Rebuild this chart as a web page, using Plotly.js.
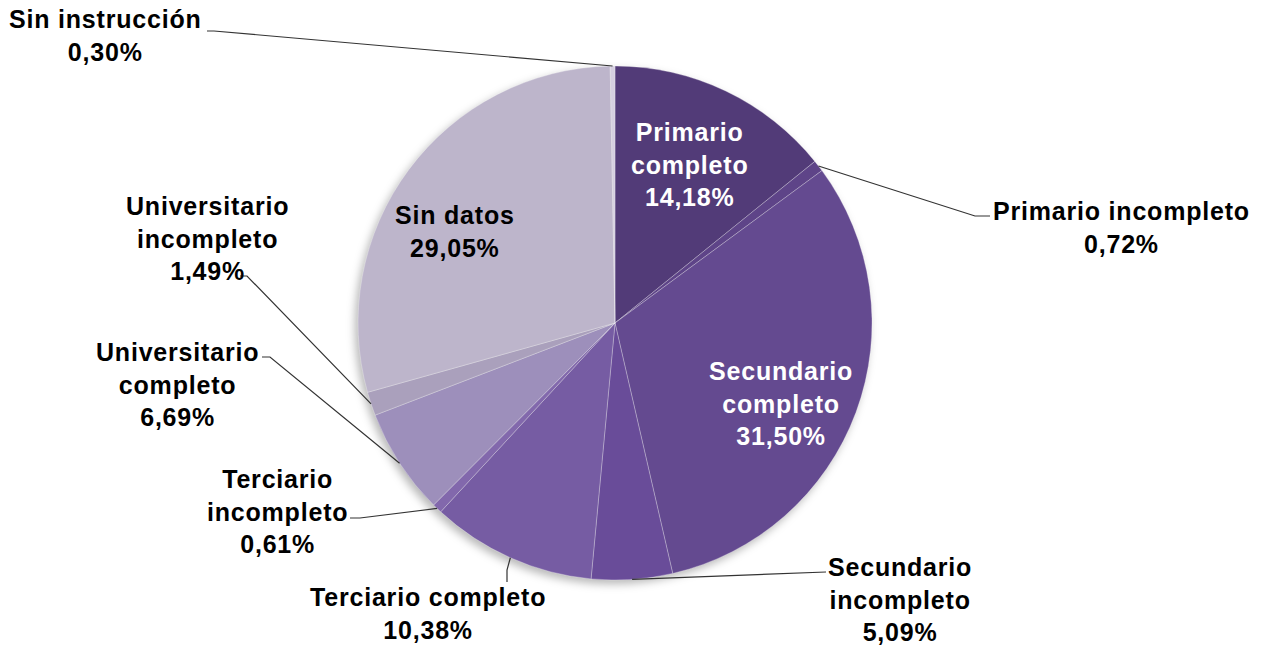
<!DOCTYPE html>
<html>
<head>
<meta charset="utf-8">
<script src="https://cdn.plot.ly/plotly-3.0.1.min.js"></script>
<style>
  html, body { margin: 0; padding: 0; background: #ffffff; }
  #chart { width: 1268px; height: 646px; }
  .pielayer { filter: drop-shadow(-3px 4px 4px rgba(0,0,0,0.28)); }
  .annotation-text { letter-spacing: 0.8px; }
</style>
</head>
<body>
<div id="chart"></div>
<script>
// ---- data ----
const categories = [
  "Primario completo",
  "Primario incompleto",
  "Secundario completo",
  "Secundario incompleto",
  "Terciario completo",
  "Terciario incompleto",
  "Universitario completo",
  "Universitario incompleto",
  "Sin datos",
  "Sin instrucción"
];
const percentages = [14.18, 0.72, 31.50, 5.09, 10.38, 0.61, 6.69, 1.49, 29.05, 0.30];

// ---- styles ----
const sliceColors = [
  "#523b78", "#5e4488", "#644a90", "#694c99", "#765ca3",
  "#8268ac", "#9d8fbb", "#aaa0bc", "#bdb5cb", "#d5cfe0"
];

const W = 1268, H = 646;
// pie placement (pixels)
const pieBox = { left: 358, right: 872, top: 66, bottom: 580 };

// label layout (pixel positions of label centres, wrap flag, colour, leader path points)
const labelLayout = [
  { x: 690,  y: 164, wrap: true,  color: "#ffffff", leader: null },
  { x: 1121, y: 227, wrap: false, color: "#000000", leader: [[990, 216], [975, 216]] },
  { x: 781,  y: 403, wrap: true,  color: "#ffffff", leader: null },
  { x: 900,  y: 599, wrap: true,  color: "#000000", leader: [[826, 572]] },
  { x: 428,  y: 613, wrap: false, color: "#000000", leader: [[507, 582], [507, 570]] },
  { x: 277,  y: 511, wrap: true,  color: "#000000", leader: [[350, 518], [360, 518]] },
  { x: 178,  y: 384, wrap: true,  color: "#000000", leader: [[262, 357], [270, 357]] },
  { x: 207,  y: 238, wrap: true,  color: "#000000", leader: [[240, 276], [247, 276]] },
  { x: 455,  y: 232, wrap: false, color: "#000000", leader: null },
  { x: 105,  y: 36,  wrap: false, color: "#000000", leader: [[207, 31], [214, 31]] }
];

function fmt(v) { return v.toFixed(2).replace(".", ",") + "%"; }

const domain = {
  x: [pieBox.left / W, pieBox.right / W],
  y: [1 - pieBox.bottom / H, 1 - pieBox.top / H]
};
const cx = (pieBox.left + pieBox.right) / 2;
const cy = (pieBox.top + pieBox.bottom) / 2;
const R = Math.min(pieBox.right - pieBox.left, pieBox.bottom - pieBox.top) / 2;

const total = percentages.reduce((a, b) => a + b, 0);
let cum = 0;
const midAngles = percentages.map(v => {
  const a = (cum + v / 2) / total * 2 * Math.PI;
  cum += v;
  return a;
});

const annotations = [];
const shapes = [];
const px2x = p => p / W;
const px2y = p => 1 - p / H;

categories.forEach((name, i) => {
  const L = labelLayout[i];
  const nameText = L.wrap ? name.replace(" ", "<br>") : name;
  annotations.push({
    xref: "paper", yref: "paper",
    x: px2x(L.x), y: px2y(L.y),
    xanchor: "center", yanchor: "middle",
    text: nameText + "<br>" + fmt(percentages[i]),
    showarrow: false,
    align: "center",
    font: { family: "Liberation Sans, Arial, sans-serif", size: 25, weight: "bold", color: L.color }
  });
  if (L.leader) {
    const ex = cx + R * Math.sin(midAngles[i]);
    const ey = cy - R * Math.cos(midAngles[i]);
    const pts = L.leader.concat([[ex, ey]]);
    const path = pts.map((p, k) => (k === 0 ? "M" : "L") + px2x(p[0]).toFixed(5) + "," + px2y(p[1]).toFixed(5)).join(" ");
    shapes.push({
      type: "path", xref: "paper", yref: "paper", path: path,
      line: { color: "#333333", width: 1.2 }
    });
  }
});

const trace = {
  type: "pie",
  labels: categories,
  values: percentages,
  sort: false,
  direction: "clockwise",
  rotation: 0,
  textinfo: "none",
  hoverinfo: "label+percent",
  domain: domain,
  marker: {
    colors: sliceColors,
    line: { color: "rgba(255,255,255,0.35)", width: 0.8 }
  },
  showlegend: false
};

const layout = {
  width: W, height: H,
  margin: { l: 0, r: 0, t: 0, b: 0 },
  paper_bgcolor: "#ffffff",
  showlegend: false,
  annotations: annotations,
  shapes: shapes
};

Plotly.newPlot("chart", [trace], layout, { displayModeBar: false, staticPlot: true });
</script>
</body>
</html>
